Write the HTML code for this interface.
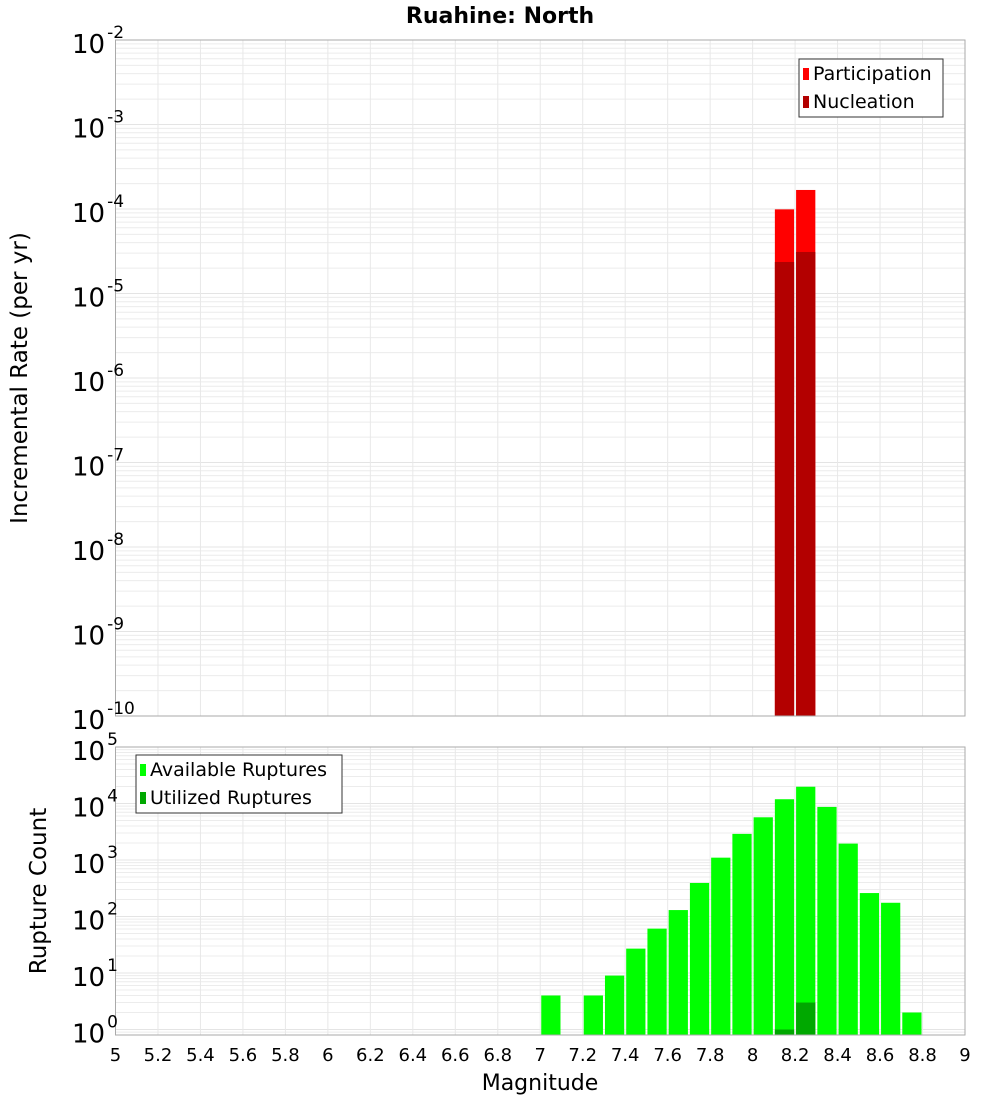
<!DOCTYPE html>
<html><head><meta charset="utf-8"><style>
body{margin:0;background:#fff;}
svg{display:block;font-family:"DejaVu Sans","Liberation Sans",sans-serif;}
</style></head><body>
<svg id="c" width="1000" height="1100"></svg>
<script>
const partBins=[8.15,8.25];
const partVals=[9.9e-5,1.68e-4];
const nuclVals=[2.36e-5,3.1e-5];
const cntBins=[7.05,7.25,7.35,7.45,7.55,7.65,7.75,7.85,7.95,8.05,8.15,8.25,8.35,8.45,8.55,8.65,8.75];
const availVals=[4,4,9,27,61,130,392,1100,2900,5700,11900,19800,8700,1950,260,175,2];
const utilBins=[8.15,8.25];
const utilVals=[1,3];
const xTicks=[5,5.2,5.4,5.6,5.8,6,6.2,6.4,6.6,6.8,7,7.2,7.4,7.6,7.8,8,8.2,8.4,8.6,8.8,9];
const topExp=[-2,-3,-4,-5,-6,-7,-8,-9,-10];
const botExp=[5,4,3,2,1,0];

const NS="http://www.w3.org/2000/svg";
const svg=document.getElementById('c');
function el(t,a,p){const e=document.createElementNS(NS,t);for(const k in a)e.setAttribute(k,a[k]);(p||svg).appendChild(e);return e;}
const X0=115.5,X1=965;
const xs=v=>X0+(v-5)*(X1-X0)/4;
const T0=40,T1=716;
const ty=v=>T0+(-2-Math.log10(v))*84.5;
const B0=747,B1=1035;
const by=v=>1029.5-Math.log10(v)*56.5;

function panel(top,bot,expLo,expHi,ys,name){
  const g=el('g',{});
  
  
  for(let e=expLo;e<expHi;e++)for(let m=1;m<10;m++){
    const y=ys(m*Math.pow(10,e));
    if(y<top-0.5||y>bot+0.5)continue;
    el('line',{x1:X0,x2:X1,y1:y,y2:y,stroke:m==1?'#e4e4e4':'#ececec','stroke-width':1},g);
  }
  for(const t of xTicks){const x=xs(t);el('line',{x1:x,x2:x,y1:top,y2:bot,stroke:'#e8e8e8','stroke-width':1},g);}
}
panel(T0,T1,-10,-1,ty,'top');
panel(B0,B1,-1,5,by,'bottom');

function bar(c,v,yf,base,fill,name){
  const x=xs(c-0.05)+1,w=xs(c+0.05)-xs(c-0.05)-2;
  const y=yf(v);
  const r=el('rect',{x:x,y:y,width:w,height:base-y,fill:fill});
  
  
}
partBins.forEach((c,i)=>bar(c,partVals[i],ty,T1,'#ff0000','participation-bar'));
partBins.forEach((c,i)=>bar(c,nuclVals[i],ty,T1,'#b30000','nucleation-bar'));
cntBins.forEach((c,i)=>bar(c,availVals[i],by,B1,'#00ff00','available-bar'));
utilBins.forEach((c,i)=>bar(c,utilVals[i],by,B1,'#00a800','utilized-bar'));

el('rect',{x:X0,y:T0,width:X1-X0,height:T1-T0,fill:'none',stroke:'#aaa','stroke-width':1});
el('rect',{x:X0,y:B0,width:X1-X0,height:B1-B0,fill:'none',stroke:'#aaa','stroke-width':1});

function ylab(e,y,name){
  const s=String(e);
  const t=el('text',{x:72,y:y+13,'text-anchor':'start','font-size':26,fill:'#000'});
  
  
  const a=document.createElementNS(NS,'tspan');a.textContent='10';t.appendChild(a);
  const b=document.createElementNS(NS,'tspan');b.setAttribute('dy','-15');b.setAttribute('dx','2');b.setAttribute('font-size','17');b.textContent=s;t.appendChild(b);
}
topExp.forEach(e=>ylab(e,ty(Math.pow(10,e)),'y-tick-top'));
botExp.forEach(e=>ylab(e,by(Math.pow(10,e)),'y-tick-bottom'));

xTicks.forEach(t=>{
  const tx=el('text',{x:xs(t),y:1061,'text-anchor':'middle','font-size':18,fill:'#000'});
  tx.textContent=String(t);
  
  
});

function txt(s,a,name){const t=el('text',a);t.textContent=s;return t;}
txt('Ruahine: North',{x:500,y:23,'text-anchor':'middle','font-size':22,'font-weight':'bold'},'chart-title');
txt('Magnitude',{x:540,y:1090,'text-anchor':'middle','font-size':22},'x-axis-title');
txt('Incremental Rate (per yr)',{x:0,y:0,'text-anchor':'middle','font-size':23,transform:'translate(27,378) rotate(-90)'},'y-axis-title-top');
txt('Rupture Count',{x:0,y:0,'text-anchor':'middle','font-size':23,transform:'translate(46,891) rotate(-90)'},'y-axis-title-bottom');

function legend(x,y,w,items,name){
  const g=el('g',{});
  el('rect',{x:x,y:y,width:w,height:58,fill:'#fff',stroke:'#333','stroke-width':1},g);
  items.forEach((it,i)=>{
    el('rect',{x:x+4,y:y+9+i*28,width:6,height:12,fill:it[1]},g);
    const t=el('text',{x:x+14,y:y+21+i*28,'font-size':19},g);t.textContent=it[0];
  });
}
legend(799,59,144,[['Participation','#ff0000'],['Nucleation','#b30000']],'legend-top');
legend(136,755,206,[['Available Ruptures','#00ff00'],['Utilized Ruptures','#00a800']],'legend-bottom');
</script>
</body></html>
